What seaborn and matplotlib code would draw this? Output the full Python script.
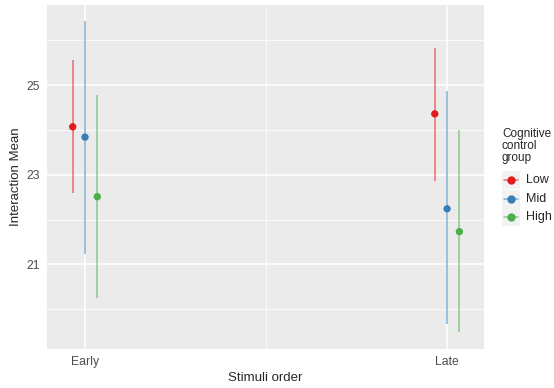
import numpy as np
import pandas as pd
import seaborn as sns
import matplotlib.pyplot as plt
from matplotlib.lines import Line2D
from matplotlib.patches import Rectangle

orders = ['Early', 'Late']
groups = ['Low', 'Mid', 'High']
colors = ['#E41A1C', '#377EB8', '#4DAF4A']

# means and interval ends, order: Low, Mid, High
early_mean = [24.07, 23.84, 22.51]
early_lo = [22.59, 21.23, 20.25]
early_hi = [25.57, 26.43, 24.78]
late_mean = [24.36, 22.24, 21.73]
late_lo = [22.86, 19.66, 19.48]
late_hi = [25.84, 24.86, 23.99]

df = pd.DataFrame({
    'order': np.repeat(orders, 3),
    'group': groups * 2,
    'mean': early_mean + late_mean,
    'lo': early_lo + late_lo,
    'hi': early_hi + late_hi,
})
dodge = {'Low': -0.034, 'Mid': 0.0, 'High': 0.034}
df['x'] = df['order'].map({o: i for i, o in enumerate(orders)}) + df['group'].map(dodge)

sns.set_theme(style='darkgrid', rc={'axes.facecolor': '#EBEBEB',
                                    'grid.color': 'white'})
plt.rcParams['font.family'] = ['Liberation Sans', 'DejaVu Sans']

fig = plt.figure(figsize=(5.54, 3.88), dpi=100)
ax = fig.add_axes([47 / 554, 1 - 349 / 388, (484 - 47) / 554, (349 - 5) / 388])

pal = dict(zip(groups, colors))
for g in groups:
    sub = df[df['group'] == g]
    ax.vlines(sub['x'], sub['lo'], sub['hi'], color=pal[g], alpha=0.6, lw=1.1, zorder=2)
sns.scatterplot(data=df, x='x', y='mean', hue='group', palette=pal, s=28,
                edgecolor='none', legend=False, ax=ax, zorder=3)

ax.set_xlim(-0.105, 1.102)
ax.set_ylim(19.11, 26.79)
ax.set_xticks([0, 1])
ax.set_xticklabels(orders)
ax.set_xticks([0.5], minor=True)
ax.set_yticks([21, 23, 25])
ax.set_yticks([20, 22, 24, 26], minor=True)
ax.grid(which='major', color='white', lw=1.1)
ax.grid(which='minor', color='white', lw=0.55)
for s in ax.spines.values():
    s.set_visible(False)
ax.tick_params(axis='both', which='major', length=3, width=0.8, color='#333333',
               labelsize=8.8, labelcolor='#4D4D4D', pad=2)
ax.tick_params(axis='both', which='minor', length=0)
ax.set_xlabel('Stimuli order', fontsize=9.5, labelpad=3)
ax.set_ylabel('Interaction Mean', fontsize=9.5, labelpad=3)

# legend drawn ggplot-style
fig.text(502 / 554, 1 - 128 / 388, 'Cognitive\ncontrol\ngroup', fontsize=8.5,
         va='top', ha='left', linespacing=1.0)
key_y = [180, 199, 217]
for g, yk in zip(groups, key_y):
    fig.patches.append(Rectangle((502 / 554, 1 - (yk + 9) / 388), 18 / 554, 18 / 388,
                                 transform=fig.transFigure, facecolor='#F2F2F2',
                                 edgecolor='none'))
    fig.lines.append(Line2D([504 / 554, 518 / 554], [1 - yk / 388] * 2, color=pal[g],
                            alpha=0.6, lw=1.1, transform=fig.transFigure))
    fig.lines.append(Line2D([511 / 554], [1 - yk / 388], color=pal[g], marker='o',
                            ms=5, transform=fig.transFigure))
    fig.text(526 / 554, 1 - yk / 388, g, fontsize=9, va='center', ha='left')

fig.savefig('out.png', dpi=100)
